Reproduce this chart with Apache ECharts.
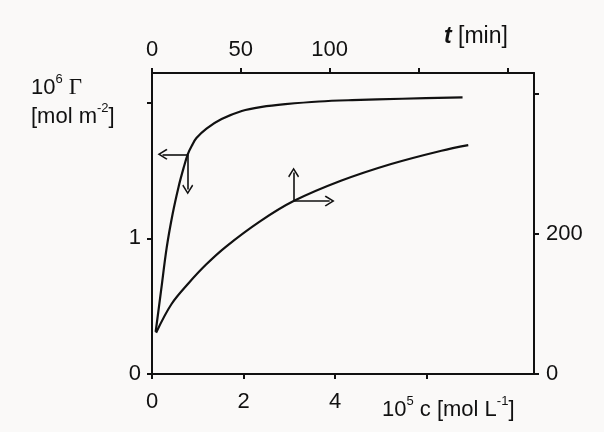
<!DOCTYPE html>
<html>
<head>
<meta charset="utf-8">
<script src="https://cdn.jsdelivr.net/npm/echarts@6/dist/echarts.min.js"></script>
<style>html,body{margin:0;padding:0;background:#faf9f8;}#c{width:604px;height:432px;}</style>
</head>
<body>
<div id="c"></div>
<script>
// Steep curve: 10^6 Γ (left axis) vs 10^5 c (bottom axis)
const cValues = [0.08, 0.20, 0.32, 0.45, 0.58, 0.69, 0.78, 0.88, 0.97, 1.19, 1.52, 1.96, 2.40, 2.91, 3.65, 4.37, 5.46, 6.78];
const gammaValues = [0.31, 0.62, 0.93, 1.18, 1.38, 1.52, 1.62, 1.69, 1.74, 1.81, 1.88, 1.94, 1.97, 1.99, 2.01, 2.02, 2.03, 2.04];
// Slow curve: right axis vs t [min] (top axis)
const tValues = [2.3, 11, 20.7, 30.3, 41.7, 60.8, 79.7, 106.3, 134.6, 162.9, 178];
const rightValues = [59, 100, 130, 156, 182, 218, 247, 276, 300, 319, 327];
// Axis ticks and labels
const bottomTicks = [0, 2, 4, 6];
const bottomLabels = [0, 2, 4];
const topTicks = [0, 50, 100, 150, 200];
const topLabels = [0, 50, 100];
const leftTicks = [0, 1, 2];
const leftLabels = [0, 1];
const rightTicks = [0, 200, 400];
const rightLabels = [0, 200];
// Arrow indicators (data coordinates)
const steepArrowAt = [0.78, 1.62];
const steepArrowLeftTo = 0.23;
const steepArrowDownTo = 1.36;
const slowArrowAt = [79.7, 247];
const slowArrowUpTo = 288;
const slowArrowRightTo = 100;

const ink = '#111';
const font = "'Liberation Sans', Arial, sans-serif";
const chevron = 'path://M0,0 L6,8 L4.8,9 L0,2.6 L-4.8,9 L-6,8 Z';

const chart = echarts.init(document.getElementById('c'), null, {renderer: 'canvas'});

function axisCommon(ticks, labels, margin) {
  return {
    axisLine: {show: true, onZero: false, lineStyle: {color: ink, width: 2}},
    axisTick: {show: true, inside: false, length: 5, lineStyle: {color: ink, width: 2}, customValues: ticks},
    axisLabel: {show: true, color: ink, fontSize: 22, fontFamily: font, margin: margin, customValues: labels},
    splitLine: {show: false}
  };
}

const mlCommon = {
  silent: true,
  symbol: ['none', chevron],
  symbolSize: [11, 10],
  label: {show: false},
  lineStyle: {color: ink, width: 1.6, type: 'solid'},
  animation: false
};

chart.setOption({
  animation: false,
  backgroundColor: '#faf9f8',
  grid: {left: 152, right: 70, top: 73, bottom: 58, containLabel: false},
  xAxis: [
    Object.assign({type: 'value', position: 'bottom', min: 0, max: 8.34}, axisCommon(bottomTicks, bottomLabels, 17)),
    Object.assign({type: 'value', position: 'top', min: 0, max: 215}, axisCommon(topTicks, topLabels, 12))
  ],
  yAxis: [
    Object.assign({type: 'value', position: 'left', min: 0, max: 2.22}, axisCommon(leftTicks, leftLabels, 11)),
    Object.assign({type: 'value', position: 'right', min: 0, max: 430}, axisCommon(rightTicks, rightLabels, 12))
  ],
  series: [
    {
      type: 'line', xAxisIndex: 0, yAxisIndex: 0, smooth: 0.35, showSymbol: false,
      lineStyle: {color: ink, width: 2.2},
      data: cValues.map((c, i) => [c, gammaValues[i]]),
      markLine: Object.assign({}, mlCommon, {
        data: [
          [{coord: steepArrowAt}, {coord: [steepArrowLeftTo, steepArrowAt[1]]}],
          [{coord: steepArrowAt}, {coord: [steepArrowAt[0], steepArrowDownTo]}]
        ]
      })
    },
    {
      type: 'line', xAxisIndex: 1, yAxisIndex: 1, smooth: 0.35, showSymbol: false,
      lineStyle: {color: ink, width: 2.2},
      data: tValues.map((t, i) => [t, rightValues[i]]),
      markLine: Object.assign({}, mlCommon, {
        data: [
          [{coord: slowArrowAt}, {coord: [slowArrowAt[0], slowArrowUpTo]}],
          [{coord: slowArrowAt}, {coord: [slowArrowRightTo, slowArrowAt[1]]}]
        ]
      })
    }
  ],
  graphic: [
    {
      type: 'text', left: 31, top: 70,
      style: {
        text: '{n|10}{s|6}{n| }{g|Γ}\n{n|[mol m}{s|-2}{n|]}',
        fill: ink,
        rich: {
          n: {fontSize: 22, fontFamily: font, lineHeight: 29, fill: ink, verticalAlign: 'bottom'},
          s: {fontSize: 13, fontFamily: font, lineHeight: 29, fill: ink, verticalAlign: 'top', padding: [3, 0, 0, 0]},
          g: {fontSize: 23, fontFamily: "'Liberation Serif', serif", lineHeight: 29, fill: ink, verticalAlign: 'bottom'}
        }
      }
    },
    {
      type: 'text', left: 444, top: 25,
      style: {
        text: '{i|t}{n| [min]}',
        fill: ink,
        rich: {
          i: {fontSize: 23, fontFamily: font, fontStyle: 'italic', fontWeight: 'bold', fill: ink},
          n: {fontSize: 23, fontFamily: font, fill: ink}
        }
      }
    },
    {
      type: 'text', left: 382, top: 393,
      style: {
        text: '{n|10}{s|5}{n| c [mol L}{s|-1}{n|]}',
        fill: ink,
        rich: {
          n: {fontSize: 22, fontFamily: font, lineHeight: 28, fill: ink, verticalAlign: 'bottom'},
          s: {fontSize: 13, fontFamily: font, lineHeight: 28, fill: ink, verticalAlign: 'top', padding: [2, 0, 0, 0]}
        }
      }
    }
  ]
});
</script>
</body>
</html>
